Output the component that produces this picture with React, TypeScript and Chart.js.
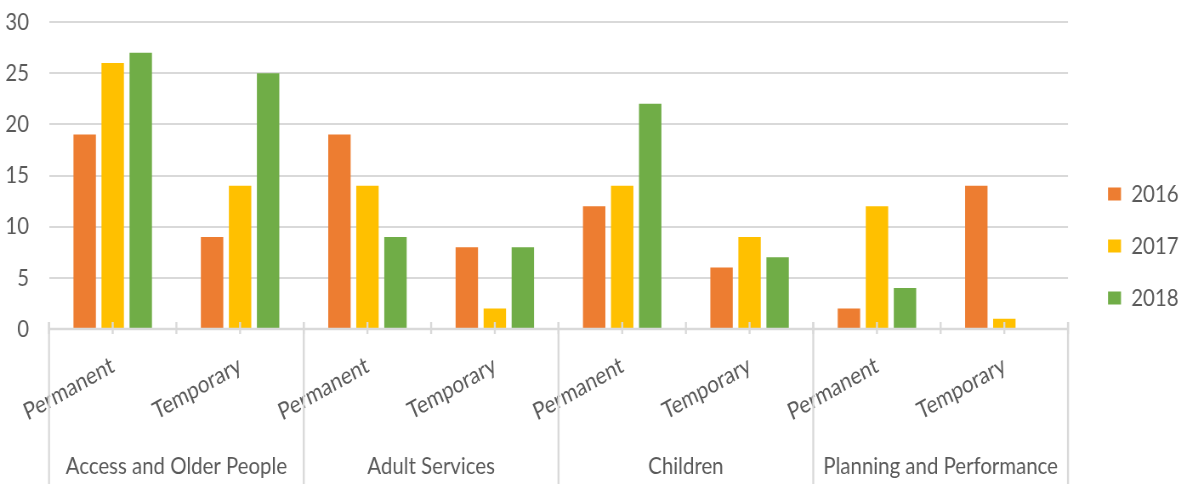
import React, { useEffect, useRef } from "react";
import { Chart, registerables } from "chart.js";

Chart.register(...registerables);

const groups = ["Access and Older People", "Adult Services", "Children", "Planning and Performance"];
const types = ["Permanent", "Temporary"];
const categories = groups.flatMap(() => types.map((t) => t));
const years = ["2016", "2017", "2018"];
const values2016 = [19, 9, 19, 8, 12, 6, 2, 14];
const values2017 = [26, 14, 14, 2, 14, 9, 12, 1];
const values2018 = [27, 25, 9, 8, 22, 7, 4, 0];
const yTicks = [0, 5, 10, 15, 20, 25, 30];

const colors = ["#ED7D31", "#FFC000", "#70AD47"];
const FONT = "Lato, 'Liberation Sans', sans-serif";
const FS = 24;
const TEXT = "#595959";
const GRID = "#d9d9d9";
const OUT_W = 1181;
const OUT_H = 484;

// horizontal squeeze so the text reads as narrow as in the reference
function computeSqueeze() {
  const c = document.createElement("canvas").getContext("2d")!;
  c.font = `${FS}px ${FONT}`;
  const samples: [string, number][] = [
    ["Access and Older People", 224],
    ["Adult Services", 128],
    ["Children", 73],
    ["Planning and Performance", 239],
    ["2016", 45],
    ["10", 21],
  ];
  let t = 0;
  let m = 0;
  samples.forEach(([s, w]) => {
    t += w;
    m += c.measureText(s).width;
  });
  const s0 = t / m;
  const wc = Math.round(OUT_W / s0);
  const legendText = Math.max(...years.map((y) => c.measureText(y).width));
  return { S: OUT_W / wc, WC: wc, legendText };
}

export default function App() {
  const ref = useRef<HTMLCanvasElement>(null);
  useEffect(() => {
    document.body.style.margin = "0";
    const { S, WC, legendText } = computeSqueeze();
    const canvas = ref.current!;
    canvas.width = WC;
    canvas.height = OUT_H;
    canvas.style.transformOrigin = "0 0";
    canvas.style.transform = `scaleX(${S})`;

    const LEG_PAD = 28;
    const boxW = 13 / S;
    const legendLeft = 1108 / S - LEG_PAD;
    const legendWidth = LEG_PAD + boxW + FS / 2 + legendText;
    const padRight = Math.max(0, WC - (legendLeft + legendWidth));
    const spacerW = legendLeft - 1068 / S;
    const tanRef = Math.tan((29.5 * Math.PI) / 180);
    const rot = (Math.atan(tanRef * S) * 180) / Math.PI;

    const axisDecor = {
      id: "axisDecor",
      afterDatasetsDraw(chart: any) {
        const { ctx, chartArea, scales } = chart;
        const xs = scales.x;
        const n = categories.length;
        const centers = categories.map((_, i) => xs.getPixelForValue(i));
        const half = (centers[1] - centers[0]) / 2;
        const bounds: number[] = [];
        for (let i = 0; i <= n; i++) bounds.push(i < n ? centers[i] - half : centers[n - 1] + half);
        const b = chartArea.bottom;
        ctx.save();
        ctx.strokeStyle = GRID;
        ctx.lineWidth = 2.5;
        ctx.beginPath();
        ctx.moveTo(bounds[0], b);
        ctx.lineTo(bounds[n], b);
        ctx.stroke();
        ctx.lineWidth = 2 / S;
        ctx.beginPath();
        [...centers, ...bounds].forEach((x) => {
          ctx.moveTo(x, b - 7);
          ctx.lineTo(x, b + 5);
        });
        ctx.stroke();
        ctx.beginPath();
        for (let g = 0; g <= groups.length; g++) {
          const x = bounds[g * types.length];
          ctx.moveTo(x, b - 7);
          ctx.lineTo(x, chart.height);
        }
        ctx.stroke();
        ctx.fillStyle = TEXT;
        ctx.font = `${FS}px ${FONT}`;
        ctx.textAlign = "center";
        ctx.textBaseline = "middle";
        groups.forEach((g, gi) => {
          const x = (bounds[gi * types.length] + bounds[(gi + 1) * types.length]) / 2;
          ctx.fillText(g, x, 466);
        });
        ctx.restore();
      },
    };

    const chart = new Chart(canvas, {
      type: "bar",
      data: {
        labels: categories,
        datasets: [values2016, values2017, values2018].map((v, i) => ({
          label: years[i],
          data: v,
          backgroundColor: colors[i],
          categoryPercentage: 0.66,
          barPercentage: 0.8,
        })),
      },
      options: {
        responsive: false,
        animation: false,
        devicePixelRatio: 1,
        layout: { padding: { top: 8, right: padRight, left: 0, bottom: 0 } },
        plugins: {
          tooltip: { enabled: false },
          legend: {
            position: "right",
            maxWidth: legendWidth,
            labels: {
              boxWidth: boxW,
              boxHeight: 13,
              padding: LEG_PAD,
              color: TEXT,
              font: { family: FONT, size: FS },
            },
          },
        },
        scales: {
          x: {
            grid: { display: false },
            border: { display: false },
            ticks: {
              autoSkip: false,
              minRotation: rot,
              maxRotation: rot,
              padding: 14,
              color: TEXT,
              font: { family: FONT, size: FS },
            },
            afterFit: (s: any) => {
              s.height = 155;
              s.paddingLeft = 0;
              s.paddingRight = 0;
              s.paddingTop = 0;
              s.paddingBottom = 0;
            },
          },
          y: {
            min: 0,
            max: 30,
            afterBuildTicks: (s: any) => {
              s.ticks = yTicks.map((v) => ({ value: v }));
            },
            ticks: { padding: 20 / S, color: TEXT, font: { family: FONT, size: FS } },
            grid: { color: GRID, lineWidth: 2, drawTicks: false },
            border: { display: false },
            afterFit: (s: any) => {
              s.width = 49 / S;
              s.paddingTop = 22;
              s.paddingBottom = 0;
            },
          },
          spacer: {
            type: "linear",
            position: "right",
            display: true,
            ticks: { display: false },
            grid: { display: false, drawTicks: false },
            border: { display: false },
            afterFit: (s: any) => {
              s.width = spacerW;
              s.paddingTop = 0;
              s.paddingBottom = 0;
            },
          },
        },
      },
      plugins: [axisDecor],
    });
    return () => chart.destroy();
  }, []);
  return (
    <div style={{ width: OUT_W, height: OUT_H, overflow: "hidden", position: "relative" }}>
      <canvas ref={ref} width={OUT_W} height={OUT_H} style={{ display: "block" }} />
    </div>
  );
}
